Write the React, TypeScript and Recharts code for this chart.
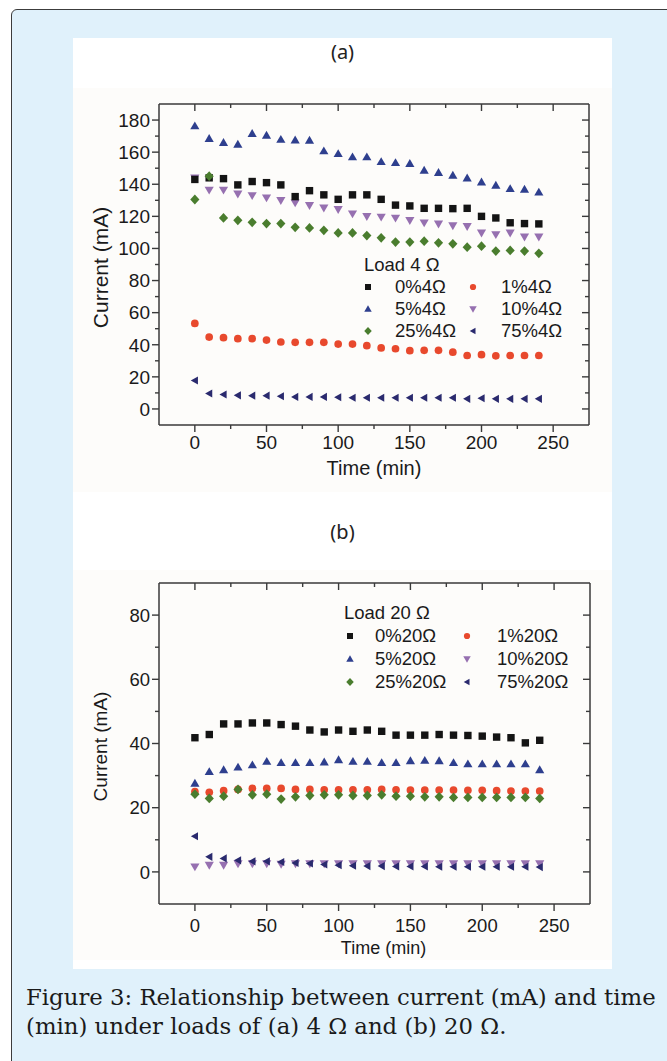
import React from 'react';
import { ScatterChart, Scatter, XAxis, YAxis, Legend } from 'recharts';

// time axis (min)
const TIME = [0, 10, 20, 30, 40, 50, 60, 70, 80, 90, 100, 110, 120, 130, 140, 150, 160, 170, 180, 190, 200, 210, 220, 230, 240];

// (a) load 4 Ω, current in mA
const A_0 = [143, 144, 143.5, 139.6, 141.7, 141, 139.6, 132.3, 136, 133.4, 130.6, 133.4, 133.4, 130.6, 127, 126.5, 125, 125, 124.8, 125, 120, 119, 116, 115.5, 115.3];
const A_1 = [53.3, 44.8, 44.4, 43.8, 43.8, 42.9, 41.7, 41.5, 41.5, 41.5, 40.4, 40.4, 39.4, 38, 37.5, 36.3, 36.5, 36.5, 35.4, 33.3, 33.8, 33.1, 33.3, 33.3, 33.3];
const A_5 = [176.3, 168.4, 165.9, 164.8, 171.5, 170.4, 167.9, 167.5, 167.3, 160.7, 159, 157, 157, 154, 153.4, 152.8, 148.6, 147.2, 145.5, 143.8, 141.3, 139.3, 137.2, 136.8, 135];
const A_10 = [144, 136.4, 136.4, 134, 133, 131.6, 130, 128.5, 126.8, 125.3, 124.3, 121.6, 120, 119.6, 119, 117.5, 116, 115.3, 114.2, 113.8, 109.7, 108.7, 109.7, 107.2, 107.2];
const A_25 = [130.5, 145, 119, 117.5, 116.3, 115.5, 115.5, 113.2, 112.8, 111.3, 109.7, 109.7, 108, 106.6, 104, 104, 104.5, 103.5, 102.9, 100.8, 101.4, 98.4, 98.8, 98.4, 97];
const A_75 = [17.7, 9.6, 9, 8.5, 8.3, 8.3, 7.9, 7.5, 7.5, 7.5, 7.3, 7, 7, 7, 7, 7, 7, 7, 7, 6.3, 6.7, 6.3, 6.3, 6.3, 6.3];

// (b) load 20 Ω
const B_0 = [41.8, 42.8, 46.1, 46.1, 46.4, 46.4, 45.9, 45.4, 44.2, 43.6, 44.2, 43.8, 44.2, 43.8, 42.6, 42.6, 42.6, 42.8, 42.6, 42.5, 42.3, 42, 41.8, 40.2, 41];
const B_1 = [25, 24.8, 25.3, 25.7, 26, 26, 26, 25.7, 25.7, 25.6, 25.6, 25.6, 25.6, 25.7, 25.6, 25.5, 25.5, 25.5, 25.5, 25.4, 25.4, 25.3, 25.2, 25.2, 25.2];
const B_5 = [27.6, 31.2, 31.8, 32.6, 33.3, 34.4, 34, 34, 34, 34.2, 34.9, 34.4, 34.4, 34, 34, 34.6, 34.7, 34.6, 34, 33.6, 33.6, 33.6, 33.6, 33.6, 31.8];
const B_10 = [1.6, 2.1, 2.1, 2.6, 2.6, 2.6, 2.4, 2.6, 2.6, 2.6, 2.6, 2.6, 2.6, 2.6, 2.6, 2.6, 2.6, 2.6, 2.6, 2.6, 2.6, 2.6, 2.6, 2.6, 2.6];
const B_25 = [24.2, 22.9, 23.6, 25.7, 24, 24.2, 22.7, 23.4, 23.8, 24, 24, 23.8, 23.8, 24, 23.6, 23.6, 23.4, 23.4, 23.2, 23.2, 23.2, 23.2, 23.2, 23.2, 22.9];
const B_75 = [11.1, 4.7, 4.2, 3.6, 3.3, 3.3, 3.1, 2.8, 2.6, 2.3, 2.1, 1.9, 1.8, 1.8, 1.7, 1.7, 1.7, 1.6, 1.6, 1.6, 1.6, 1.6, 1.6, 1.6, 1.5];

// ticks (majors get labels)
const X_TICKS = [0, 25, 50, 75, 100, 125, 150, 175, 200, 225, 250];
const A_Y_TICKS = [0, 10, 20, 30, 40, 50, 60, 70, 80, 90, 100, 110, 120, 130, 140, 150, 160, 170, 180];
const B_Y_TICKS = [0, 10, 20, 30, 40, 50, 60, 70, 80];

const AXIS = '#3a3a3a';
const SANS = '"Liberation Sans", Arial, sans-serif';

type Kind = 'square' | 'circle' | 'up' | 'down' | 'diamond' | 'left';

const STYLE: { pct: string; kind: Kind; color: string }[] = [
  { pct: '0%', kind: 'square', color: '#141414' },
  { pct: '1%', kind: 'circle', color: '#e8492d' },
  { pct: '5%', kind: 'up', color: '#2e3f8e' },
  { pct: '10%', kind: 'down', color: '#9670b0' },
  { pct: '25%', kind: 'diamond', color: '#4a7d2e' },
  { pct: '75%', kind: 'left', color: '#2a2a6e' },
];

function Marker({ cx, cy, kind, color, s }: { cx: number; cy: number; kind: Kind; color: string; s: number }) {
  if (cx == null || cy == null) return null;
  switch (kind) {
    case 'square':
      return <rect x={cx - s / 2} y={cy - s / 2} width={s} height={s} fill={color} />;
    case 'circle':
      return <circle cx={cx} cy={cy} r={s * 0.52} fill={color} />;
    case 'up':
      return <polygon points={`${cx},${cy - s * 0.62} ${cx - s * 0.62},${cy + s * 0.45} ${cx + s * 0.62},${cy + s * 0.45}`} fill={color} />;
    case 'down':
      return <polygon points={`${cx},${cy + s * 0.62} ${cx - s * 0.62},${cy - s * 0.45} ${cx + s * 0.62},${cy - s * 0.45}`} fill={color} />;
    case 'diamond':
      return <polygon points={`${cx},${cy - s * 0.66} ${cx + s * 0.62},${cy} ${cx},${cy + s * 0.66} ${cx - s * 0.62},${cy}`} fill={color} />;
    default:
      return <polygon points={`${cx - s * 0.55},${cy} ${cx + s * 0.42},${cy - s * 0.55} ${cx + s * 0.42},${cy + s * 0.55}`} fill={color} />;
  }
}

interface PanelProps {
  values: number[][];
  load: string;
  yDomain: [number, number];
  yTicks: number[];
  width: number;
  height: number;
  margin: { top: number; right: number; bottom: number; left: number };
  tickFont: number;
  titleFont: number;
  yTitleFont: number;
  legendFont: number;
  xLabelDy: number;
  xTitleDy: number;
  xTitleDx: number;
  legend: { left: number; top: number; row: number; c1m: number; c1t: number; c2m: number; c2t: number };
}

const DRAW_ORDER = [3, 1, 2, 0, 4, 5];

function Panel(p: PanelProps) {
  const series = STYLE.map((st, i) => ({
    ...st,
    name: `${st.pct}${p.load}Ω`,
    data: TIME.map((t, j) => ({ t, v: p.values[i][j] })),
  }));

  const bottomTick = (props: any) => {
    const { x, y, payload } = props;
    const major = payload.value % 50 === 0;
    return (
      <g>
        <line x1={x} x2={x} y1={y} y2={y + (major ? 7 : 4)} stroke={AXIS} strokeWidth={1.4} />
        {major && (
          <text x={x} y={y + p.xLabelDy} dy="0.36em" textAnchor="middle" fontSize={p.tickFont} fontFamily={SANS} fill="#1a1a1a">
            {payload.value}
          </text>
        )}
      </g>
    );
  };
  const topTick = (props: any) => {
    const { x, y, payload } = props;
    const major = payload.value % 50 === 0;
    return <line x1={x} x2={x} y1={y} y2={y + (major ? 7 : 4)} stroke={AXIS} strokeWidth={1.4} />;
  };
  const leftTick = (props: any) => {
    const { x, y, payload } = props;
    const major = payload.value % 20 === 0;
    return (
      <g>
        <line x1={x} x2={x - (major ? 7 : 4)} y1={y} y2={y} stroke={AXIS} strokeWidth={1.4} />
        {major && (
          <text x={x - 9} y={y} dy="0.36em" textAnchor="end" fontSize={p.tickFont} fontFamily={SANS} fill="#1a1a1a">
            {payload.value}
          </text>
        )}
      </g>
    );
  };
  const rightTick = (props: any) => {
    const { x, y, payload } = props;
    const major = payload.value % 20 === 0;
    return <line x1={x} x2={x - (major ? 7 : 4)} y1={y} y2={y} stroke={AXIS} strokeWidth={1.4} />;
  };

  const xTitle = (props: any) => {
    const vb = props.viewBox;
    return (
      <text x={vb.x + vb.width / 2 + p.xTitleDx} y={vb.y + p.xTitleDy} dy="0.36em" textAnchor="middle" fontSize={p.titleFont} fontFamily={SANS} fill="#1a1a1a">
        Time (min)
      </text>
    );
  };
  const yTitle = (props: any) => {
    const vb = props.viewBox;
    const cx = vb.x + vb.width - 59;
    const cy = vb.y + vb.height / 2 + 3;
    return (
      <text x={cx} y={cy} dy="0.36em" textAnchor="middle" transform={`rotate(-90, ${cx}, ${cy})`} fontSize={p.yTitleFont} fontFamily={SANS} fill="#1a1a1a">
        Current (mA)
      </text>
    );
  };

  const L = p.legend;
  const legendContent = () => (
    <div style={{ position: 'relative', width: 260, height: L.row * 4, fontFamily: SANS, fontSize: p.legendFont, color: '#1a1a1a' }}>
      <div style={{ position: 'absolute', left: 0, top: 0, height: L.row, lineHeight: `${L.row}px`, whiteSpace: 'nowrap' }}>
        Load {p.load} Ω
      </div>
      {series.map((s, i) => {
        const col = i % 2;
        const row = Math.floor(i / 2) + 1;
        const mx = col === 0 ? L.c1m : L.c2m;
        const tx = col === 0 ? L.c1t : L.c2t;
        return (
          <React.Fragment key={s.name}>
            <svg style={{ position: 'absolute', left: mx - 6, top: row * L.row + L.row / 2 - 6 }} width={12} height={12}>
              <Marker cx={6} cy={6} kind={s.kind} color={s.color} s={6} />
            </svg>
            <div style={{ position: 'absolute', left: tx, top: row * L.row, height: L.row, lineHeight: `${L.row}px`, whiteSpace: 'nowrap' }}>
              {s.name}
            </div>
          </React.Fragment>
        );
      })}
    </div>
  );

  return (
    <ScatterChart width={p.width} height={p.height} margin={p.margin}>
      <XAxis
        xAxisId="b"
        type="number"
        dataKey="t"
        domain={[-25, 275]}
        ticks={X_TICKS}
        interval={0}
        height={1}
        tickSize={0}
        tickMargin={0}
        tick={bottomTick}
        tickLine={false}
        axisLine={{ stroke: AXIS, strokeWidth: 1.5 }}
        label={xTitle}
      />
      <XAxis
        xAxisId="t"
        orientation="top"
        type="number"
        dataKey="t"
        domain={[-25, 275]}
        ticks={X_TICKS}
        interval={0}
        height={1}
        tickSize={0}
        tickMargin={0}
        tick={topTick}
        tickLine={false}
        axisLine={{ stroke: AXIS, strokeWidth: 1.5 }}
      />
      <YAxis
        yAxisId="l"
        type="number"
        dataKey="v"
        domain={p.yDomain}
        ticks={p.yTicks}
        interval={0}
        width={1}
        tickSize={0}
        tickMargin={0}
        tick={leftTick}
        tickLine={false}
        axisLine={{ stroke: AXIS, strokeWidth: 1.5 }}
        label={yTitle}
      />
      <YAxis
        yAxisId="r"
        orientation="right"
        type="number"
        dataKey="v"
        domain={p.yDomain}
        ticks={p.yTicks}
        interval={0}
        width={1}
        tickSize={0}
        tickMargin={0}
        tick={rightTick}
        tickLine={false}
        axisLine={{ stroke: AXIS, strokeWidth: 1.5 }}
      />
      {DRAW_ORDER.map((i) => {
        const s = series[i];
        return (
          <Scatter
            key={s.name}
            name={s.name}
            data={s.data}
            xAxisId="b"
            yAxisId="l"
            fill={s.color}
            isAnimationActive={false}
            shape={(sp: any) => <Marker cx={sp.cx} cy={sp.cy} kind={s.kind} color={s.color} s={7.4} />}
          />
        );
      })}
      {/* keeps the mirrored top/right axes tied to data */}
      <Scatter
        data={series[0].data}
        xAxisId="t"
        yAxisId="r"
        isAnimationActive={false}
        legendType="none"
        shape={() => <g />}
      />
      <Legend
        layout="vertical"
        align="center"
        verticalAlign="middle"
        content={legendContent}
        wrapperStyle={{ position: 'absolute', left: L.left, top: L.top, width: 260 }}
      />
    </ScatterChart>
  );
}

export default function App() {
  return (
    <div style={{ position: 'absolute', left: 0, top: 0, width: 667, height: 1061, overflow: 'hidden', background: '#ffffff' }}>
      <div
        style={{
          position: 'absolute',
          left: 11,
          top: 9,
          width: 720,
          height: 1120,
          background: '#e0f1fb',
          border: '1.5px solid #3c3c3c',
          borderRadius: 6,
          boxSizing: 'border-box',
        }}
      />
      <div style={{ position: 'absolute', left: 73, top: 38, width: 539, height: 931, background: '#ffffff' }} />

      <div style={{ position: 'absolute', left: 73, top: 39, width: 539, textAlign: 'center', fontFamily: '"Noto Sans", sans-serif', fontSize: 20, lineHeight: '26px', color: '#222' }}>
        (a)
      </div>
      <div style={{ position: 'absolute', left: 73, top: 88, width: 539, height: 404, background: '#fdfcfa' }}>
        <Panel
          values={[A_0, A_1, A_5, A_10, A_25, A_75]}
          load="4"
          yDomain={[-10, 190]}
          yTicks={A_Y_TICKS}
          width={539}
          height={404}
          margin={{ top: 15, right: 22, bottom: 66, left: 85 }}
          tickFont={19}
          titleFont={20}
          yTitleFont={21}
          legendFont={18.5}
          xLabelDy={17}
          xTitleDy={43}
          xTitleDx={0}
          legend={{ left: 291, top: 166, row: 22, c1m: 4, c1t: 31, c2m: 109, c2t: 137 }}
        />
      </div>

      <div style={{ position: 'absolute', left: 73, top: 519, width: 539, textAlign: 'center', fontFamily: '"Noto Sans", sans-serif', fontSize: 20, lineHeight: '26px', color: '#222' }}>
        (b)
      </div>
      <div style={{ position: 'absolute', left: 73, top: 570, width: 539, height: 390, background: '#fdfcfa' }}>
        <Panel
          values={[B_0, B_1, B_5, B_10, B_25, B_75]}
          load="20"
          yDomain={[-10, 90]}
          yTicks={B_Y_TICKS}
          width={539}
          height={390}
          margin={{ top: 12, right: 21, bottom: 55, left: 85 }}
          tickFont={18.5}
          titleFont={18}
          yTitleFont={19}
          legendFont={18.5}
          xLabelDy={21}
          xTitleDy={44}
          xTitleDx={9}
          legend={{ left: 271, top: 31, row: 23, c1m: 6, c1t: 31, c2m: 123, c2t: 153 }}
        />
      </div>

      <div
        style={{
          position: 'absolute',
          left: 26,
          top: 983,
          width: 640,
          fontFamily: '"DejaVu Serif", serif',
          fontSize: 22.8,
          lineHeight: '29px',
          whiteSpace: 'nowrap',
          color: '#1a1a1a',
        }}
      >
        Figure 3: Relationship between current (mA) and time
        <br />
        (min) under loads of (a) 4 Ω and (b) 20 Ω.
      </div>
    </div>
  );
}
